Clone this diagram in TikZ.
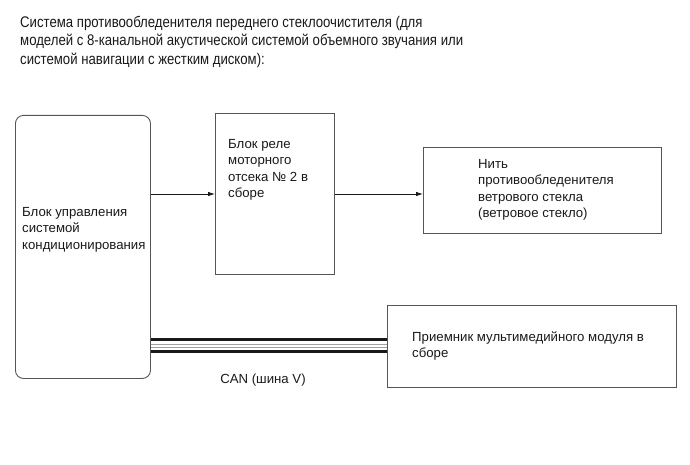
\documentclass[tikz,border=0pt]{standalone}
\usepackage{fontspec}
\setmainfont{Liberation Sans}
\newfontfamily\titlefont[FakeStretch=0.855]{Liberation Sans}
\usetikzlibrary{arrows.meta,positioning,calc}
\definecolor{framegray}{RGB}{85,85,85}
\definecolor{inkblack}{RGB}{25,25,25}
\definecolor{wiregray}{RGB}{160,160,160}

\begin{document}
\begin{tikzpicture}[x=1pt, y=-1pt,
  box/.style={draw=framegray, line width=0.9pt, inner sep=0pt, anchor=north west},
  lbl/.style={align=left, inner sep=0pt, anchor=north west, text=inkblack, font=\fontsize{13.2}{16.5}\selectfont},
  arr/.style={-{Latex[length=7pt,width=4.5pt]}, line width=0.8pt, inkblack},
  bus/.style={line width=3.4pt, inkblack},
  busthin/.style={line width=0.9pt, wiregray}
]
\useasboundingbox (0,0) rectangle (690,465);
% title
\node[lbl, font=\titlefont\fontsize{15.4}{18.3}\selectfont] (title) at (20,16)
  {Система противообледенителя переднего стеклоочистителя (для\\
   моделей с 8-канальной акустической системой объемного звучания или\\
   системой навигации с жестким диском):};
% boxes
\node[box, rounded corners=8pt, minimum width=135pt, minimum height=263pt] (ctrl) at (15,115) {};
\node[box, minimum width=119pt, minimum height=161pt] (relay) at (215,113) {};
\node[box, minimum width=238pt, minimum height=86pt] (heater) at (423,147) {};
\node[box, minimum width=289pt, minimum height=82pt] (recv) at (387,305) {};
% texts
\node[lbl] (ctrltxt) at ($(ctrl.north west)+(7,92)$) {Блок управления\\системой\\кондиционирования};
\node[lbl] (relaytxt) at ($(relay.north west)+(13,26)$) {Блок реле\\моторного\\отсека № 2 в\\сборе};
\node[lbl] (heatertxt) at ($(heater.north west)+(55,12)$) {Нить\\противообледенителя\\ветрового стекла\\(ветровое стекло)};
\node[lbl, font=\fontsize{13.2}{15.6}\selectfont] (recvtxt) at ($(recv.north west)+(25,27)$) {Приемник мультимедийного модуля в\\сборе};
% connectors
\coordinate (row) at (0,194);
\draw[arr] (ctrl.east |- row) -- (relay.west |- row);
\draw[arr] (relay.east |- row) -- (heater.west |- row);
% CAN bus
\draw[bus] ($(ctrl.east |- recv.west)+(0,-7)$) -- ($(recv.west)+(0,-7)$);
\draw[busthin] ($(ctrl.east |- recv.west)+(0,-2)$) -- ($(recv.west)+(0,-2)$);
\draw[busthin] ($(ctrl.east |- recv.west)+(0,0.5)$) -- ($(recv.west)+(0,0.5)$);
\draw[bus] ($(ctrl.east |- recv.west)+(0,5)$) -- ($(recv.west)+(0,5)$);
\node[lbl, anchor=base] (can) at (263,383) {CAN (шина V)};
\end{tikzpicture}
\end{document}
